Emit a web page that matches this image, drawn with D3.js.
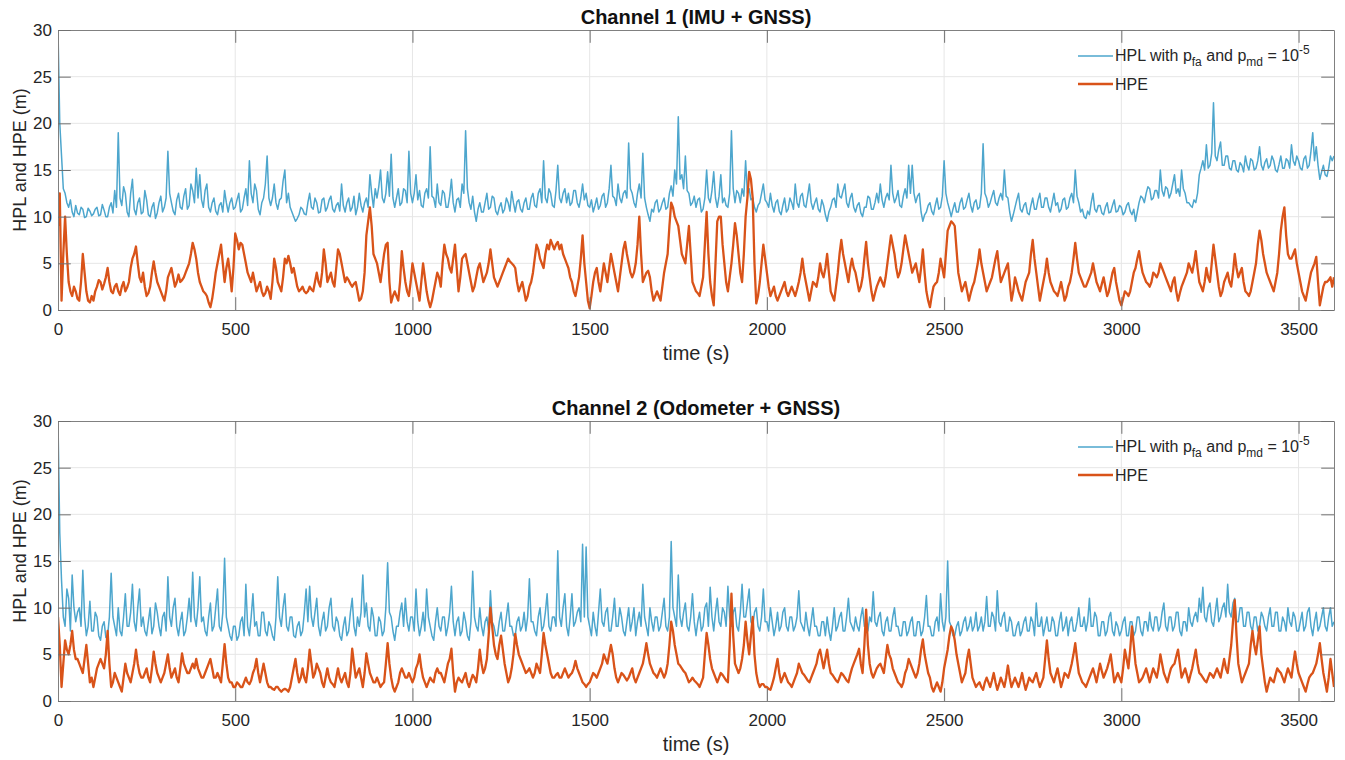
<!DOCTYPE html>
<html>
<head>
<meta charset="utf-8">
<script src="https://cdn.jsdelivr.net/npm/d3@7"></script>
<style>
  body { margin: 0; background: #fff; }
  svg text { font-family: "Liberation Sans", Arial, Helvetica, sans-serif; fill: #262626; }
</style>
</head>
<body>
<script>
// sample spacing of the series (s)
const dt = 5;
const xTicks = [0, 500, 1000, 1500, 2000, 2500, 3000, 3500];
const yTicks = [0, 5, 10, 15, 20, 25, 30];

// Channel 1 (IMU + GNSS), one row = 100 s
const hpl1 = [
  30, 20, 16.5, 13, 12.5, 11.5, 11, 11.8, 10.5, 10, 11.2, 10.4, 10.2, 11, 10.8, 9.9, 10, 10.9, 10.6, 10.1,
  10.3, 10.8, 11, 10.1, 10.2, 11.3, 10.7, 10, 10, 11, 11.5, 10.4, 12.8, 11, 19, 12, 11.2, 13.2, 12.5, 10.5,
  10, 12.5, 14, 10.8, 10.2, 11.5, 12, 10.3, 10.5, 12.8, 11.8, 10.2, 10, 11, 11.5, 9.8, 10.4, 11.5, 12.2, 10.5,
  11, 12, 17, 12.5, 11.5, 10.6, 10.2, 11.8, 12.5, 11, 10.8, 12.2, 13, 10.8, 11.2, 13.5, 12.8, 11.5, 15.2, 12,
  14.5, 11.8, 11, 12.8, 13.5, 11, 10.5, 11.5, 12, 10.6, 10.2, 11.2, 11.5, 10.5, 12.8, 11.5, 10.5, 11.5, 12, 10.8,
  11, 11.8, 12.5, 10.5, 10.8, 12, 13, 11.2, 16, 12.5, 11.5, 13.5, 12.8, 10.8, 10.2, 11.5, 12, 13.5, 16.5, 12,
  11.2, 12, 13.5, 11.5, 10.8, 11.8, 12, 13.8, 15, 11.5, 12.5, 11, 10.5, 10, 9.5, 9.8, 10.2, 11, 10.8, 10.3,
  10.2, 11.5, 12.5, 11, 10.8, 12, 11.5, 10.4, 10.5, 11.8, 12, 10.6, 11, 11.8, 12.2, 10.8, 10.5, 11.2, 11.5, 10.6,
  13.5, 11.2, 10.5, 11.5, 12, 10.6, 11, 12.2, 10.2, 11, 12.5, 11.2, 10.5, 11.5, 12, 11, 14.5, 12.5, 11, 13,
  12, 13.2, 15, 12, 11.5, 12.5, 14.8, 12.2, 16.7, 12, 11, 12, 13, 11.2, 11.5, 13, 12.8, 11.5, 17, 12.5,
  11.5, 12.5, 14.5, 11.8, 12.8, 11.2, 11, 12.5, 13, 12, 17.5, 12.2, 12, 11, 13.5, 11.5, 11.2, 12.8, 12.5, 11,
  11, 12.2, 14, 11.5, 10.5, 11.8, 12, 11, 13.5, 12.5, 19.2, 13, 11.5, 10.8, 12.2, 10.5, 9.5, 10.8, 11.5, 10.5,
  10.5, 11.5, 12.5, 10.8, 11, 12.2, 12, 10.6, 10.2, 11, 11.5, 10.4, 10.8, 12, 11.5, 10.6, 12.7, 11.5, 10.5, 11.6,
  11.8, 10.8, 10.5, 11.5, 12, 10.8, 10.8, 12, 12.5, 11.2, 11, 12.5, 13, 11.5, 16, 12, 11.5, 13, 12.5, 11.2,
  11, 12.8, 15.5, 12, 11.5, 12.5, 13, 11.5, 12.5, 11.2, 11.5, 12.8, 12.8, 11.5, 11, 12, 13.5, 11.8, 12.5, 11.2,
  11, 11.8, 10.5, 11.2, 12, 10.8, 11.2, 12.2, 12.5, 11, 11.5, 13, 15.5, 12.2, 12, 11.2, 13.5, 12, 11.5, 12.5,
  12.8, 12, 17.9, 13, 12.5, 11.5, 11, 12.5, 13.5, 12, 16.8, 12, 11, 10.2, 9.5, 10.8, 10.5, 11.5, 11.8, 10.5,
  10.8, 11.5, 12, 10.8, 11, 12.5, 13.3, 12.2, 15, 13.5, 20.7, 14, 14.5, 13, 16.5, 12.8, 12.5, 11.2, 11.5, 12.2,
  11, 11.8, 12, 10.5, 10.8, 12, 15, 12, 11.5, 12.8, 14.8, 12, 11, 12.2, 14.5, 11.5, 12, 11.2, 11, 12.5,
  19.2, 13, 11.5, 12.8, 12.5, 11.5, 13, 12.2, 16, 12.5, 13, 11.8, 12, 11, 10.5, 11.2, 11.5, 12.5, 13.5, 11.8,
  11.5, 11, 12.5, 11.2, 10.5, 11.5, 11.8, 10.6, 10.2, 11.2, 12, 10.5, 10.8, 12, 11.5, 10.8, 13.5, 11.5, 11, 12.2,
  12.5, 11.2, 11, 12.2, 13.5, 11.5, 10.8, 11.5, 12, 10.8, 10.5, 11.8, 11.2, 10.2, 9.5, 10.5, 11, 11.8, 12, 11,
  13.5, 12.2, 12, 12.8, 13.5, 11.5, 11, 12, 12.5, 11, 10.5, 11.2, 11.5, 10.4, 10, 11, 11, 12.2, 12, 10.8,
  10.8, 11.5, 12.5, 11.5, 13.5, 11.8, 11, 12, 12.5, 11.8, 15.5, 12.5, 11.5, 12, 12.8, 11.2, 11, 12.2, 13, 12,
  15.5, 12.5, 15.5, 12.5, 11.5, 12.2, 12.5, 10.5, 9.5, 10.2, 10.5, 11.2, 11.5, 10.6, 10.2, 11.2, 12, 10.8, 11, 12.2,
  16, 12.5, 11.5, 10.8, 10, 10.8, 11.5, 10.5, 10.5, 11.5, 12, 10.8, 11, 11.8, 12.5, 11.2, 10.5, 11.5, 11.8, 10.8,
  11, 12.5, 17.8, 12.5, 12, 11, 11.5, 12.2, 12.8, 11.5, 11.2, 12, 12.5, 11.8, 15, 12.2, 12, 10.5, 9.5, 10.2,
  11, 11.8, 12.5, 10.8, 10.5, 11.2, 11.5, 10.4, 10.2, 11.2, 12, 10.8, 10.8, 11.8, 12.5, 11, 11, 12, 12, 11,
  10.5, 11.5, 12.5, 11.2, 11.5, 10.5, 10.8, 11.8, 12, 10.8, 11, 12, 12.5, 11.5, 15, 12.2, 11.5, 10.5, 10.8, 10,
  9.8, 10.6, 10.2, 11.5, 12.5, 10.8, 10.5, 11.2, 11.2, 10.4, 10.2, 11, 11.5, 10.4, 10.5, 11.2, 11.8, 10.5, 10.6, 11.2,
  11, 10.2, 10.5, 11.2, 11.5, 10.6, 10.2, 10.8, 9.5, 10.5, 11.5, 12.2, 12, 11.5, 12.5, 13.2, 13, 11.8, 12, 12.8,
  12.8, 12, 15, 12.8, 12.2, 13.2, 13, 12, 12.5, 13.5, 14.5, 12.5, 13, 12.2, 15, 13, 12.5, 11.5, 11.5, 11.2,
  11, 11.8, 11.5, 12.5, 14.5, 15.2, 16, 15, 17.7, 15.2, 15.5, 16.8, 22.2, 16.5, 16, 17.2, 18, 15.5, 15.5, 16.5,
  16.5, 15.2, 15, 16, 16, 15, 14.8, 15.8, 15.5, 14.8, 16.5, 15.5, 15, 16.2, 16, 15, 15.2, 16, 17.5, 15.5,
  15, 15.8, 16.2, 15.2, 15.5, 16.5, 16, 15, 14.8, 15.6, 16.5, 15.2, 15.2, 16.2, 16, 15.2, 17.7, 16, 15.5, 16.5,
  16, 15.2, 15, 16.2, 16.5, 15.2, 15.5, 17, 19, 16, 17.5, 15.5, 14, 14.8, 15.5, 14.5, 14.3, 15.2, 16.5, 16,
  16.5
];
const hpe1 = [
  9, 12.5, 1, 6, 10, 6, 3, 2, 1.5, 2.5, 2, 1.2, 1, 3, 6, 4, 2, 1, 0.8, 1.5,
  1, 2, 2.5, 3.2, 3, 2.2, 2.8, 3.5, 4.5, 3, 2, 1.8, 2.5, 2.8, 2, 1.6, 2.5, 3, 2, 2.4,
  3, 4.5, 5.5, 6, 6.8, 5, 3.5, 3, 4, 2.5, 1.5, 1.8, 2.5, 4, 5.2, 4, 3, 2.5, 2, 1.5,
  1, 2, 3.5, 4, 4.5, 3.5, 2.5, 3, 3.8, 3, 3.2, 3.5, 4, 4.5, 5, 6, 7.2, 6.5, 5.5, 4,
  3, 2.5, 2, 1.8, 1.5, 0.8, 0.3, 1.2, 2.5, 4, 5, 6, 7, 5, 3, 4.5, 5.5, 4, 2, 4.5,
  8.2, 7.5, 6.5, 7.2, 7, 6, 5, 4, 3.5, 3, 4, 3, 2, 2.5, 3, 2, 1.5, 1.8, 2.5, 2,
  1.2, 3, 5.5, 4.5, 3, 2.5, 2, 3.5, 5.5, 5, 5.8, 5, 4, 4.5, 3.5, 2.5, 2, 2.2, 2.5, 2,
  1.8, 2, 2.5, 2.2, 2, 3, 4, 3, 2.5, 4, 6.5, 5, 3, 3.5, 4, 3, 2.5, 4.5, 6.5, 6,
  5, 4, 3, 3.5, 3.2, 2.8, 2.5, 2.8, 3, 2, 1, 1.2, 2, 4, 8, 9.5, 11, 9, 6, 5.5,
  5, 4, 3, 4.5, 6, 7, 7.2, 3, 0.8, 1.5, 2, 1.5, 1, 3, 6.3, 4.5, 3, 2, 1.5, 3,
  5, 4, 3, 2, 1, 3, 5, 3.5, 2, 1, 0.3, 1, 2, 3, 4, 3.5, 2.5, 5, 7, 6,
  5.5, 4.5, 4, 5.5, 7, 4.5, 2, 3.5, 5.5, 5.8, 6, 5, 4, 3, 2, 2.5, 3.5, 4.5, 5, 4,
  3, 3.5, 4, 5, 6.5, 5, 3.5, 3, 2.5, 3, 3.5, 4, 4.5, 5, 5.5, 5.2, 5, 4.8, 4.5, 3,
  2, 2.5, 3, 2, 1, 1.5, 2.5, 3, 4, 5.5, 7, 6.5, 5.5, 5, 4.5, 6, 7, 6.5, 7.5, 7,
  6.5, 7, 7.3, 6.5, 7, 6, 5.5, 5, 4.5, 3.5, 3, 2, 1.5, 2.5, 3.5, 5.5, 8, 5, 3, 1,
  0.2, 1.5, 3, 4, 4.5, 3, 2, 3.5, 5, 4, 3, 4.5, 6, 5, 4, 3, 2, 3.5, 5, 6.5,
  7.3, 6, 5, 4, 3.5, 4, 5, 7, 10, 6, 3, 3.5, 4, 4.2, 3.5, 2, 1, 1.5, 2, 1.5,
  1, 2.5, 4, 5, 6, 9, 11.5, 11, 10, 9.5, 9, 7.5, 6, 5.5, 5, 7, 9, 6, 3, 2.5,
  2, 1.8, 1.5, 2.5, 3.5, 7, 10.5, 6, 3, 1.5, 0.5, 5, 9.5, 10, 10, 7, 5, 3, 2, 3.5,
  5, 7, 9.3, 8, 6, 4, 3, 6, 10, 12, 14.8, 14, 12, 5, 0.7, 1.5, 3, 5, 7, 5.5,
  4, 2.5, 1.5, 2, 2.5, 1.5, 1, 1.5, 2, 2.5, 3, 2, 1.5, 2, 2.5, 2, 1.5, 2.2, 3, 4,
  5.5, 4, 3, 2, 1, 2, 3, 2.8, 2.5, 3.5, 5, 4, 3.5, 4.5, 6, 4, 2, 1.5, 1, 2.5,
  4, 6, 7.5, 6, 5, 4, 3, 4.5, 5.5, 4.5, 4, 3, 2, 2.5, 3.5, 5.5, 7.3, 5, 3.5, 2,
  1, 1.8, 2.5, 3, 3.5, 3, 2.5, 3.5, 5, 6.5, 8, 7, 6, 4.5, 3.5, 4, 5, 6.5, 8, 7,
  6, 5, 4, 4.5, 5, 4, 3, 4.5, 6.5, 4, 2, 1, 0.3, 1.5, 2.5, 2.8, 3, 4, 5.5, 4.5,
  3.5, 6, 8.5, 9, 9.5, 9.3, 9, 6.5, 4, 3, 2, 2.5, 3, 2, 1, 1.8, 2.5, 3, 4, 5,
  6.5, 5, 4, 3, 2, 2.5, 3, 3.5, 4.5, 5.5, 6.3, 4.5, 3, 3.5, 4, 4.5, 5, 3, 1, 2,
  3.5, 2.8, 2, 1.5, 1, 2, 3, 3.5, 4, 6, 7.5, 5.5, 4, 2.5, 1, 2, 3, 4, 5.5, 4,
  3, 2.5, 2, 1.8, 1.5, 2.2, 3, 2, 1, 1.5, 2.5, 3, 4, 5.5, 7.2, 5.5, 4, 3.5, 3, 2.5,
  2.5, 3, 3.5, 4, 5, 4, 3, 2.5, 2, 2.8, 3.5, 2.5, 1.5, 2, 3, 4, 4.5, 3, 2, 1,
  0.5, 1.2, 2, 1.8, 1.5, 2, 3, 4, 4.5, 5.5, 6.3, 5, 4, 3.5, 3, 2.8, 2.5, 3, 4, 3.8,
  3.5, 4, 5, 4.5, 4, 3.5, 3, 2.5, 2, 3, 3.5, 2, 1, 1.8, 2.5, 3, 3.5, 4, 5, 4.5,
  4, 5, 6.3, 4.5, 3, 2.5, 2, 3, 4.5, 3.5, 3, 5, 7, 5.5, 4, 2.5, 1.5, 2, 3, 3.5,
  4, 3, 2.5, 4, 6, 4.5, 3.5, 4, 4.5, 3, 2, 1.8, 1.5, 2, 3, 4, 5, 7, 8.5, 7.5,
  6, 5, 4, 3.5, 3, 2.5, 2, 3, 4, 6, 8.5, 10, 11, 8, 6, 5.5, 5.5, 6, 6.5, 5,
  4, 3, 2, 1.5, 1, 2, 3, 4, 4.5, 5, 5.7, 3, 0.5, 1.5, 2.5, 3, 3, 3.2, 3.5, 2.5,
  3.5
];

// Channel 2 (Odometer + GNSS), one row = 100 s
const hpl2 = [
  30, 18, 12.9, 9, 8, 12, 11, 7.5, 13.5, 10, 8.5, 9.5, 10, 8, 14, 9, 7, 8, 10.7, 7.5,
  7.5, 9.5, 9, 7, 6.5, 8, 8.5, 6.8, 7, 9, 13.7, 9, 8, 7, 10, 7.5, 7, 9, 11.5, 8,
  8, 9.5, 12.5, 8.5, 7.5, 10, 12, 8, 9, 7.5, 7, 8.5, 10, 7.2, 8, 10.5, 9.5, 8, 7, 9,
  9.5, 7.5, 13.3, 9, 8, 10, 11, 8, 7, 8.5, 9.5, 7, 7.5, 9, 11, 8.5, 13.8, 9, 8, 10,
  13.3, 8.5, 9, 7.5, 7, 9, 10.5, 7.5, 8, 10, 12, 8, 7.5, 9.5, 15.3, 9, 8, 7, 6.5, 8,
  8, 6.5, 7, 8.5, 9, 7, 12.5, 8, 7, 9, 11.5, 8, 8.5, 7, 7, 9.5, 9.5, 7.5, 7, 8.5,
  8, 7, 6.5, 9, 13.3, 9, 8, 10, 11.5, 8, 7.5, 9, 9, 7, 6.8, 8, 8.5, 7, 7.5, 9.5,
  12, 8.5, 12.3, 9, 8, 9.5, 11, 8, 7, 8.5, 9.5, 7.5, 8, 10, 11, 8, 7.5, 9, 8.5, 7,
  6.5, 8, 9, 7, 7.5, 9.5, 11, 8, 7, 9, 8, 9.5, 13.5, 9, 10.5, 8, 7.5, 10, 9, 7,
  7, 9, 8.5, 7, 7.5, 10, 14.8, 9.5, 9, 7.5, 6.5, 8, 8, 9.5, 10.5, 8, 11, 8.5, 7.5, 9,
  9, 7.5, 12, 8.5, 7, 8, 9.5, 7.5, 12, 9, 8, 7, 6.5, 8.5, 10, 8, 7.5, 9, 9, 7,
  8, 9.5, 12.3, 8.5, 7, 8.5, 9, 7, 7.5, 9.5, 8.5, 7, 6.5, 8.5, 13.9, 9, 8, 7.5, 10, 8,
  7, 8.5, 9, 7.5, 11.8, 8.5, 8, 7, 7, 8.5, 9.5, 7.5, 7.5, 9, 10.5, 8, 8, 7, 7, 8.5,
  9, 7.5, 8, 9.5, 7.5, 9, 13.1, 8.5, 8.5, 7.5, 7, 9, 10, 7.5, 8, 9.5, 11.5, 8, 7.5, 9,
  9, 8, 16.1, 9, 8, 10, 11.5, 8, 7, 9, 11.5, 8, 8.5, 9.5, 10, 8.5, 16.8, 9, 16.5, 9,
  8, 7, 9.5, 8, 7, 9.5, 12, 8.5, 8, 9.5, 10, 7.5, 7.5, 9, 11, 8, 8, 10, 9, 7.5,
  7, 8.5, 10, 7.5, 8.5, 10, 7, 8.5, 9.5, 8, 12.5, 9, 8, 7, 10, 8.5, 7.5, 9, 9, 7.5,
  8, 9.5, 11, 8, 7.5, 9, 17.1, 10, 9, 8, 13.5, 9, 8, 9.5, 10.5, 8, 7.5, 9, 11.5, 8.5,
  7, 8.5, 9.5, 7.5, 8, 10, 10.5, 8, 12.2, 9, 7.5, 9.5, 11, 8.5, 8, 10, 9.5, 8, 12.3, 9,
  8, 9.5, 10, 8, 7.5, 9.5, 12.5, 9, 9, 10.5, 12, 8.5, 8, 9.5, 10, 8, 7.5, 9, 12, 8.5,
  8.5, 7.5, 10, 8.5, 7, 8, 9.5, 7.5, 8, 9.5, 10, 8, 7.5, 9, 9, 7.5, 8, 9, 11.8, 8.5,
  8, 7.5, 9.5, 8, 7, 8.5, 10, 8, 8, 7, 7, 8.5, 8.5, 7, 9, 7.5, 6.5, 8, 10, 7.5,
  8, 9, 9.5, 7.5, 7.5, 9, 11, 8.5, 8, 7.5, 9, 8, 7.5, 9, 10, 8, 8, 7.5, 9, 8.5,
  11.7, 8.5, 8, 9, 9.5, 7.5, 7, 8.5, 9, 7.5, 7.5, 9, 10, 8, 8, 7, 7, 8.5, 8.5, 7,
  7.5, 8.5, 9, 7, 7, 8.5, 8.5, 7, 7.5, 9, 11.3, 8, 8, 7, 7, 8.5, 9, 7.5, 11.5, 8.5,
  7.5, 9, 15, 8.5, 8, 7, 7, 8, 8.5, 7, 7.5, 8.5, 9, 7.5, 8, 9, 7.5, 8, 9.5, 7.5,
  8, 9, 7.5, 8.5, 11.2, 8, 8, 9.5, 9, 7.5, 11.8, 8.5, 8, 9, 9.5, 7.5, 7.5, 9, 8.5, 7,
  7, 8, 8.5, 7, 7.5, 8.5, 9, 7.5, 7.5, 9, 8.5, 7, 10.5, 8, 8, 9, 7, 8, 9, 7.5,
  7.5, 9, 8.5, 7, 7, 8.5, 9.5, 7.5, 8, 9, 7, 8.5, 9, 7.5, 7.5, 8.5, 10, 8, 8, 9,
  7.5, 8.5, 11, 8, 8, 9.5, 9, 7, 7, 8.5, 8.5, 7, 7.5, 9, 9.5, 7.5, 7, 8.5, 8, 7,
  7.5, 8.5, 9, 7, 7, 8.5, 8.5, 7, 7.5, 9, 9, 7.5, 7, 8.5, 8.5, 7.5, 9.5, 8, 7.5, 9,
  9, 7.5, 8, 9.5, 10.5, 8, 7.5, 9, 9, 7.5, 8, 9.5, 9.5, 7.5, 7, 8.5, 8.5, 7.5, 10, 8.5,
  8, 9, 9.5, 8.5, 11, 9.5, 12.2, 9, 8.5, 10, 10.5, 8.5, 8, 9.5, 11, 8.5, 9, 10, 10.5, 9,
  12.5, 9.5, 9, 10.5, 11, 8.5, 8.5, 10, 10, 8, 8, 9.5, 9.5, 8, 7.5, 9, 9, 7.5, 8, 9.5,
  9, 8, 7.5, 9, 10, 8, 8, 9.5, 9.5, 7.5, 7.5, 9, 8.5, 7.5, 10, 8.5, 8, 9.5, 9, 7.5,
  7.5, 8.5, 9.5, 7.5, 8, 9.5, 10, 8, 7, 8.5, 9.5, 7.5, 8, 9, 10, 8, 7.5, 9, 10, 8,
  8.5
];
const hpe2 = [
  9, 6, 1.5, 4, 6.5, 5.5, 5, 6, 7.5, 5.5, 4.5, 4.5, 4, 3.5, 3, 4.5, 6, 4, 2, 2.5,
  1.5, 2.5, 3.5, 4, 4.5, 4, 3.5, 5, 7.5, 4, 1.5, 2, 3, 2.5, 2, 1.5, 1, 2.5, 4, 3,
  2.5, 2, 3, 4, 5.5, 4, 3, 2.5, 2.5, 3, 3.5, 2.5, 2, 3.5, 5.3, 4, 3, 2.5, 2, 2.5,
  3, 4, 5, 3.5, 2.5, 3, 3.5, 2.5, 2, 3.5, 5.1, 4, 3.5, 3, 3, 3.5, 4, 3.5, 4.5, 3.5,
  3, 2.5, 2.5, 3, 3.5, 4, 4.5, 3.5, 2.5, 2.5, 3, 2.5, 2, 4, 6.1, 4, 2.5, 2, 2, 1.5,
  1.5, 2, 1.8, 1.5, 1.5, 2, 2.5, 2, 1.8, 2.2, 3, 3.5, 4.5, 3, 2, 3, 4, 3, 2, 1.5,
  1.5, 1.3, 1.2, 1.5, 1.5, 1.2, 1, 1.2, 1.3, 1.2, 1, 1.5, 2.5, 3.5, 4.5, 3, 2, 2.5, 3.5, 2.5,
  2, 3.5, 5.5, 4, 2.5, 3, 4, 3.5, 3, 2, 1.5, 2.5, 3.5, 2.5, 2, 1.8, 1.5, 2.5, 3.5, 2.5,
  2, 2.5, 3, 2, 1.5, 3, 5.6, 4, 2.5, 3, 3.5, 2.5, 1.5, 3, 5.1, 4, 3, 2.5, 2, 2,
  2.5, 2, 1.5, 1.8, 2, 4, 6.2, 4, 2.5, 1.5, 1, 1.5, 2, 3, 3.5, 3, 2.5, 2.5, 3, 2.5,
  2, 2.5, 3.5, 4, 5, 3.5, 2.5, 2, 1.5, 2, 2.5, 2.2, 2, 3, 3.5, 3, 3, 2.5, 2, 3,
  4, 4.5, 5.6, 3, 1, 2, 2.5, 2.2, 2, 2.5, 3, 2, 1.5, 2.2, 2.8, 2.5, 2, 3.5, 5.5, 4,
  3, 3.5, 4.5, 7, 10, 8, 6, 5, 4.5, 6, 7, 5.5, 4, 3, 2, 2.5, 3.5, 5, 7.2, 6,
  5, 4.5, 4, 3.5, 3, 3.2, 3.5, 3, 2.5, 3, 4, 3.5, 3, 5, 7.3, 6, 5, 4, 3, 2.5,
  2.5, 2.8, 3, 2.5, 2.5, 3, 3.5, 3, 2.5, 2.8, 3, 3.5, 4.3, 3.5, 3, 2.5, 2, 1.8, 1.5, 1.8,
  2, 2.5, 3, 2.8, 2.5, 3, 3.5, 4, 5, 4.5, 4, 5, 6, 5, 3.5, 2.5, 2, 2.5, 3, 2.8,
  2.5, 2.2, 2.5, 3, 3.5, 2.5, 2, 2.5, 3, 3.5, 4, 5, 6.2, 5, 4, 3.5, 3, 2.8, 2.5, 3,
  3.5, 3, 2.5, 3, 4, 6, 8.5, 7.5, 6, 5, 4, 3.8, 3.5, 3.2, 3, 2.5, 2, 2.2, 2.5, 2.2,
  2, 1.8, 1.5, 2, 2.5, 5, 7.3, 6, 4.5, 3.5, 3, 2.5, 2, 2.5, 3, 2.8, 2.5, 2.2, 2, 6,
  11.5, 7, 4, 3.5, 3, 3.5, 4.5, 6, 8.5, 6.5, 5, 7, 9, 5, 3, 2, 1.5, 1.8, 1.8, 1.5,
  1.5, 1.3, 1.2, 1.8, 2.5, 3.5, 4.5, 3, 2, 2.5, 3, 2.5, 2, 1.8, 1.5, 2, 2.5, 3, 4, 3.5,
  3, 2.8, 2.5, 2.2, 2, 2.5, 3, 3.5, 4, 5, 5.5, 4.5, 3.5, 4.5, 5.5, 4, 3, 2.8, 2.5, 2.2,
  2, 2.5, 3, 2.8, 2.5, 2.2, 2, 2.8, 3.5, 4, 4.5, 5, 5.6, 4, 3, 6, 9.8, 6, 4, 3,
  2.5, 3, 3.5, 3.8, 4, 3.5, 3, 4.5, 6, 5, 4.5, 3.5, 3, 2.5, 2, 1.8, 1.5, 2, 3, 3.5,
  4.5, 4, 3.5, 3, 2.5, 3, 4, 5.5, 6.6, 5, 4, 3, 2.5, 1.5, 1, 1.5, 2, 1.5, 1, 2,
  3.5, 4.5, 5.5, 7, 8, 7.5, 6.5, 5, 4, 3, 2, 2.5, 3, 4.5, 5.5, 4, 2.5, 2, 1.5, 1.8,
  2, 1.5, 1.2, 2, 2.5, 2, 1.5, 2.2, 3, 2, 1.2, 1.8, 2.5, 2, 1.5, 2.5, 3.8, 2.5, 1.5, 2,
  2.5, 2, 1.5, 2.2, 3, 2, 1.2, 1.8, 2.5, 2.2, 2, 2.5, 3, 2.2, 1.5, 2, 2.5, 4.5, 6.5, 4.5,
  3, 2.5, 2, 2.8, 3.5, 2.5, 1.5, 2.2, 3, 2.8, 2.5, 3.2, 4, 5, 6.2, 4.5, 3, 2.5, 2, 1.8,
  1.5, 2, 2.5, 3, 3.5, 2.8, 2, 3, 4, 3.2, 2.5, 3, 3.5, 4.2, 5, 3.5, 2, 2.5, 3, 2.5,
  2, 3.5, 5.5, 4.5, 3.5, 5.5, 8, 6, 4, 3, 2, 2.2, 2.5, 3, 3.5, 2.8, 2, 2.8, 3.5, 3,
  2.5, 3.5, 5, 4, 3, 2.5, 2, 2.8, 3.5, 3.8, 4, 4.8, 5.5, 4, 2.5, 3, 3.5, 2.8, 2, 2.8,
  3.5, 4.5, 5.5, 4, 3, 2.8, 2.5, 2.2, 2, 2.5, 3, 2.8, 2.5, 3, 3.5, 3, 2.5, 3.5, 4.5, 3.5,
  3, 4.5, 6, 8.5, 10.8, 7, 4, 3, 2, 2.5, 3, 3.5, 4, 6, 7.5, 6, 5, 6.5, 8, 5,
  3.5, 2, 1, 1.8, 2.5, 2.2, 2, 2.8, 3.5, 3.2, 3, 2.5, 2, 2.8, 3.5, 3, 2.5, 4, 5.3, 4,
  3, 2.5, 2, 1.5, 1, 1.8, 2.5, 2.8, 3, 3.5, 4, 5, 6.2, 4.5, 3, 2, 1, 2.5, 4.5, 3,
  1.5
];

const panels = [
  { title: "Channel 1 (IMU + GNSS)", top: 30, hpl: hpl1, hpe: hpe1 },
  { title: "Channel 2 (Odometer + GNSS)", top: 421, hpl: hpl2, hpe: hpe2 }
];

const width = 1345, height = 760;
const left = 58, right = 1334, plotH = 280;
const blue = "#4da6cd", orange = "#d95319";
const tickLen = 12.8;

const svg = d3.select("body").append("svg")
  .attr("width", width)
  .attr("height", height);

const x = d3.scaleLinear().domain([0, 3600]).range([left, right]);

panels.forEach((p, k) => {
  const y = d3.scaleLinear().domain([0, 30]).range([p.top + plotH, p.top]);
  const g = svg.append("g");

  // grid
  g.append("g").selectAll("line")
    .data(xTicks.filter(d => d > 0))
    .join("line")
      .attr("x1", d => x(d)).attr("x2", d => x(d))
      .attr("y1", p.top).attr("y2", p.top + plotH)
      .attr("stroke", "#e6e6e6");
  g.append("g").selectAll("line")
    .data(yTicks.filter(d => d > 0 && d < 30))
    .join("line")
      .attr("x1", left).attr("x2", right)
      .attr("y1", d => y(d)).attr("y2", d => y(d))
      .attr("stroke", "#e6e6e6");

  // series
  g.append("clipPath").attr("id", "clip" + k)
    .append("rect").attr("x", left).attr("y", p.top - 1)
    .attr("width", right - left).attr("height", plotH + 2);

  const line = d3.line().x((d, i) => x(i * dt)).y(d => y(d));
  g.append("path")
    .attr("clip-path", `url(#clip${k})`)
    .attr("d", line(p.hpl))
    .attr("fill", "none").attr("stroke", blue).attr("stroke-width", 1.5)
    .attr("stroke-linejoin", "round");
  g.append("path")
    .attr("clip-path", `url(#clip${k})`)
    .attr("d", line(p.hpe))
    .attr("fill", "none").attr("stroke", orange).attr("stroke-width", 2.3)
    .attr("stroke-linejoin", "round");

  // axes: ticks point inward on all four sides
  const fmt = d3.format("d");
  const bottom = d3.axisBottom(x).tickValues(xTicks).tickFormat(fmt).tickSizeInner(-tickLen).tickSizeOuter(0).tickPadding(13);
  const top = d3.axisTop(x).tickValues(xTicks).tickSizeInner(-tickLen).tickSizeOuter(0).tickFormat("");
  const lefty = d3.axisLeft(y).tickValues(yTicks).tickFormat(fmt).tickSizeInner(-tickLen).tickSizeOuter(0).tickPadding(6);
  const righty = d3.axisRight(y).tickValues(yTicks).tickSizeInner(-tickLen).tickSizeOuter(0).tickFormat("");

  const styleAxis = sel => {
    sel.select(".domain").attr("stroke", "#808080");
    sel.selectAll(".tick line").attr("stroke", "#707070");
    sel.selectAll(".tick text").attr("font-size", 17).attr("fill", "#262626");
  };
  g.append("g").attr("transform", `translate(0,${p.top + plotH})`).call(bottom).call(styleAxis);
  g.append("g").attr("transform", `translate(0,${p.top})`).call(top).call(styleAxis);
  g.append("g").attr("transform", `translate(${left},0)`).call(lefty).call(styleAxis);
  g.append("g").attr("transform", `translate(${right},0)`).call(righty).call(styleAxis);

  // title and labels
  g.append("text")
    .attr("x", (left + right) / 2).attr("y", p.top - 6)
    .attr("text-anchor", "middle")
    .attr("font-size", 20).attr("font-weight", "bold")
    .style("fill", "#111")
    .text(p.title);
  g.append("text")
    .attr("x", (left + right) / 2).attr("y", p.top + plotH + 50)
    .attr("text-anchor", "middle")
    .attr("font-size", 20)
    .text("time (s)");
  g.append("text")
    .attr("transform", `translate(26,${p.top + 130}) rotate(-90)`)
    .attr("text-anchor", "middle")
    .attr("font-size", 18)
    .text("HPL and HPE (m)");

  // legend (no box)
  const lg = g.append("g").attr("transform", `translate(1078,${p.top})`);
  lg.append("line").attr("x1", 0).attr("x2", 35).attr("y1", 26).attr("y2", 26)
    .attr("stroke", blue).attr("stroke-width", 1.5);
  lg.append("line").attr("x1", 0).attr("x2", 35).attr("y1", 54).attr("y2", 54)
    .attr("stroke", orange).attr("stroke-width", 2.3);
  const t1 = lg.append("text").attr("x", 37).attr("y", 31).attr("font-size", 16);
  t1.append("tspan").text("HPL with p");
  t1.append("tspan").attr("dy", 5).attr("font-size", 12).text("fa");
  t1.append("tspan").attr("dy", -5).text(" and p");
  t1.append("tspan").attr("dy", 5).attr("font-size", 12).text("md");
  t1.append("tspan").attr("dy", -5).text(" = 10");
  t1.append("tspan").attr("dy", -7).attr("font-size", 12).text("-5");
  lg.append("text").attr("x", 37).attr("y", 60).attr("font-size", 16).text("HPE");
});
</script>
</body>
</html>
